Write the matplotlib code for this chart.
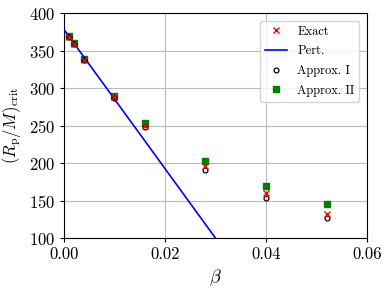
import numpy as np
import matplotlib.pyplot as plt

plt.rcParams['font.family'] = 'serif'
plt.rcParams['font.serif'] = ['cmr10']
plt.rcParams['mathtext.fontset'] = 'cm'
plt.rcParams['axes.formatter.use_mathtext'] = True

beta = [0.001, 0.002, 0.004, 0.010, 0.016, 0.028, 0.040, 0.052]
exact = [368, 359, 338, 288, 249, 196, 160, 132]
approx1 = [368, 359, 338, 287, 248, 191, 154, 127]
approx2 = [369, 360, 339, 290, 254, 203, 170, 146]

# perturbative line
pert_b = np.array([0.0, 0.04])
pert_y = 378 - 9267 * pert_b

fig = plt.figure(figsize=(3.9, 2.9), dpi=100)
ax = fig.add_axes([0.164, 0.179, 0.777, 0.776])

ax.plot(beta, exact, 'x', color='red', ms=4, mew=1, label='Exact', zorder=4)
ax.plot(pert_b, pert_y, '-', color='blue', lw=1.2, label='Pert.', zorder=3)
ax.plot(beta, approx1, 'o', mfc='none', mec='black', ms=3.5, mew=0.9, label='Approx. I', zorder=3)
ax.plot(beta, approx2, 's', color='green', ms=4, label='Approx. II', zorder=2)

ax.set_xlim(0, 0.06)
ax.set_ylim(100, 400)
ax.set_xticks([0, 0.02, 0.04, 0.06])
ax.set_xticklabels(['0.00', '0.02', '0.04', '0.06'])
ax.set_yticks([100, 150, 200, 250, 300, 350, 400])
ax.tick_params(labelsize=12, length=3)
ax.grid(True, color='#bbbbbb', lw=0.8)
ax.set_axisbelow(True)

ax.set_xlabel(r'$\beta$', fontsize=13)
ax.set_ylabel(r'$(R_\mathrm{p}/M)_\mathrm{crit}$', fontsize=12)
ax.yaxis.set_label_coords(-0.135, 0.5)

ax.legend(loc='upper right', fontsize=9, framealpha=0.8, labelspacing=0.6,
          handlelength=1.8, borderaxespad=0.6)

fig.savefig('out.png', dpi=100)
